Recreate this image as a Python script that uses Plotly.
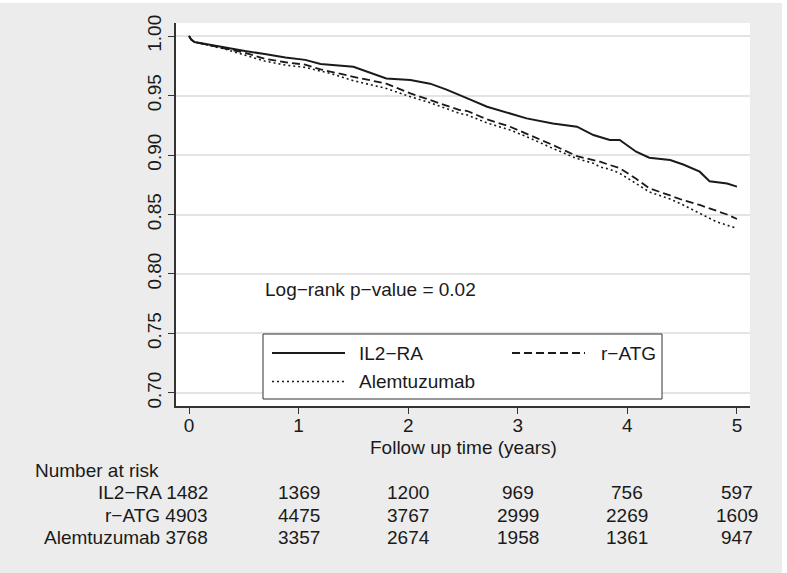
import plotly.graph_objects as go

# Kaplan-Meier estimates (years, survival)
il2_t = [0, 0.02, 0.05, 0.15, 0.33, 0.51, 0.69, 0.88, 1.06, 1.2, 1.5, 1.65, 1.8, 2.02, 2.2, 2.35,
         2.47, 2.54, 2.72, 2.93, 3.08, 3.32, 3.54, 3.69, 3.84, 3.93, 4.08, 4.2, 4.39, 4.51, 4.66,
         4.75, 4.91, 5.0]
il2_s = [1.0, 0.997, 0.995, 0.9933, 0.9905, 0.9874, 0.985, 0.982, 0.980, 0.9765, 0.9742, 0.969,
         0.9644, 0.963, 0.960, 0.955, 0.950, 0.9476, 0.9406, 0.935, 0.9308, 0.9266, 0.9238, 0.9168,
         0.9126, 0.9126, 0.9028, 0.8977, 0.8958, 0.892, 0.886, 0.878, 0.876, 0.8734]

atg_t = [0, 0.02, 0.05, 0.15, 0.33, 0.51, 0.69, 0.88, 1.06, 1.2, 1.5, 1.8, 2.02, 2.2, 2.35, 2.47,
         2.54, 2.72, 2.93, 3.08, 3.32, 3.54, 3.69, 3.75, 3.84, 3.93, 4.08, 4.2, 4.39, 4.51, 4.66,
         4.81, 4.91, 5.0]
atg_s = [1.0, 0.997, 0.995, 0.993, 0.990, 0.986, 0.981, 0.978, 0.976, 0.972, 0.9658, 0.960,
         0.9518, 0.946, 0.9414, 0.9378, 0.937, 0.930, 0.9238, 0.918, 0.9084, 0.899, 0.8958, 0.8944,
         0.8916, 0.889, 0.880, 0.872, 0.866, 0.862, 0.858, 0.853, 0.850, 0.8462]

alem_t = [0, 0.02, 0.05, 0.15, 0.33, 0.51, 0.69, 0.88, 1.06, 1.29, 1.5, 1.8, 2.02, 2.2, 2.35, 2.47,
          2.54, 2.72, 2.93, 3.08, 3.32, 3.54, 3.69, 3.75, 3.84, 3.93, 4.08, 4.2, 4.39, 4.51, 4.66,
          4.81, 4.91, 5.0]
alem_s = [1.0, 0.997, 0.995, 0.993, 0.989, 0.984, 0.979, 0.9756, 0.9737, 0.9686, 0.9625, 0.956,
          0.949, 0.944, 0.939, 0.935, 0.9336, 0.927, 0.921, 0.9154, 0.9056, 0.897, 0.893, 0.890,
          0.888, 0.8846, 0.876, 0.869, 0.863, 0.858, 0.851, 0.844, 0.841, 0.8384]

# number at risk table
risk_times = [0, 1, 2, 3, 4, 5]
risk_labels = ["IL2\u2212RA", "r\u2212ATG", "Alemtuzumab"]
risk_il2 = [1482, 1369, 1200, 969, 756, 597]
risk_atg = [4903, 4475, 3767, 2999, 2269, 1609]
risk_alem = [3768, 3357, 2674, 1958, 1361, 947]

FONT = "Liberation Sans, Arial, Helvetica, sans-serif"
INK = "#1a1a1a"

# figure geometry (pixels)
W, H = 787, 573
L, R, T, B = 176, 37, 23, 167
PW, PH = W - L - R, H - T - B


def px(x):
    return (x - L) / PW


def py(y):
    return (T + PH - y) / PH


fig = go.Figure()
fig.add_trace(go.Scatter(x=il2_t, y=il2_s, mode="lines", name="IL2\u2212RA",
                         line=dict(color=INK, width=2)))
fig.add_trace(go.Scatter(x=atg_t, y=atg_s, mode="lines", name="r\u2212ATG",
                         line=dict(color=INK, width=1.8, dash="8px,4px")))
fig.add_trace(go.Scatter(x=alem_t, y=alem_s, mode="lines", name="Alemtuzumab",
                         line=dict(color=INK, width=1.6, dash="2px,3px")))

shapes = []
annotations = []

# gray page background with thin white edge
shapes.append(dict(type="rect", xref="paper", yref="paper", layer="below",
                   x0=px(0), x1=px(782), y0=py(573), y1=py(3),
                   fillcolor="#ececec", line=dict(width=0)))
shapes.append(dict(type="rect", xref="paper", yref="paper", layer="below",
                   x0=0, x1=1, y0=0, y1=1, fillcolor="white", line=dict(width=0)))

# legend box (drawn by hand to match Stata's wide key)
shapes.append(dict(type="rect", xref="paper", yref="paper",
                   x0=px(263), x1=px(662), y0=py(399), y1=py(334),
                   fillcolor="white", line=dict(color="#333333", width=1)))
keys = [("IL2\u2212RA", "solid", 2, 272, 357, 353),
        ("r\u2212ATG", "8px,4px", 1.8, 512, 599, 353),
        ("Alemtuzumab", "2px,3px", 1.6, 272, 357, 381.5)]
for name, dash, w, kx, tx, ky in keys:
    shapes.append(dict(type="line", xref="paper", yref="paper",
                       x0=px(kx), x1=px(kx + 73), y0=py(ky), y1=py(ky),
                       line=dict(color=INK, width=w, dash=dash)))
    annotations.append(dict(xref="paper", yref="paper", x=px(tx), y=py(ky),
                            xanchor="left", yanchor="middle", showarrow=False,
                            text=name, font=dict(size=19, color=INK, family=FONT)))

annotations.append(dict(x=1.66, y=0.7866, xref="x", yref="y", showarrow=False,
                        text="Log\u2212rank p\u2212value = 0.02",
                        font=dict(size=19, color=INK, family=FONT)))

annotations.append(dict(x=2.5, y=py(447), xref="x", yref="paper", showarrow=False,
                        yanchor="middle", text="Follow up time (years)",
                        font=dict(size=19, color=INK, family=FONT)))

annotations.append(dict(x=px(33), y=py(470), xref="paper", yref="paper", showarrow=False,
                        xanchor="left", yanchor="middle", text="Number at risk",
                        font=dict(size=19, color=INK, family=FONT)))

row_y = [492, 515, 537]
for label, counts, ry in zip(risk_labels, [risk_il2, risk_atg, risk_alem], row_y):
    annotations.append(dict(x=px(210), y=py(ry), xref="paper", yref="paper", showarrow=False,
                            xanchor="right", yanchor="middle", text=f"{label} {counts[0]}",
                            font=dict(size=19, color=INK, family=FONT)))
    for t, n in zip(risk_times[1:], counts[1:]):
        annotations.append(dict(x=t, y=py(ry), xref="x", yref="paper", showarrow=False,
                                xanchor="center", yanchor="middle", text=str(n),
                                font=dict(size=19, color=INK, family=FONT)))

fig.update_layout(
    width=W, height=H,
    margin=dict(l=L, r=R, t=T, b=B, pad=0),
    paper_bgcolor="white",
    plot_bgcolor="rgba(0,0,0,0)",
    showlegend=False,
    shapes=shapes,
    annotations=annotations,
    font=dict(family=FONT, color=INK, size=17),
    xaxis=dict(range=[-0.119, 5.119], tickvals=[0, 1, 2, 3, 4, 5], ticks="outside",
               ticklen=6, tickcolor="#333333", showline=True, linecolor="#333333",
               linewidth=1.5, showgrid=False, zeroline=False, ticklabelstandoff=-5,
               tickfont=dict(size=19, color=INK)),
    yaxis=dict(range=[0.689, 1.011], tickvals=[0.70, 0.75, 0.80, 0.85, 0.90, 0.95, 1.00],
               tickformat=".2f", tickangle=-90, ticks="outside", ticklen=6,
               tickcolor="#333333", showline=True, linecolor="#333333", linewidth=1.5,
               showgrid=True, gridcolor="#e4e4e4", gridwidth=1.5, zeroline=False,
               tickfont=dict(size=19, color=INK)),
)

# drop the browser's default body margin so the figure sits at the page origin
fig.write_html("out.html", config={"displayModeBar": False},
               post_script="document.body.style.margin='0';")
